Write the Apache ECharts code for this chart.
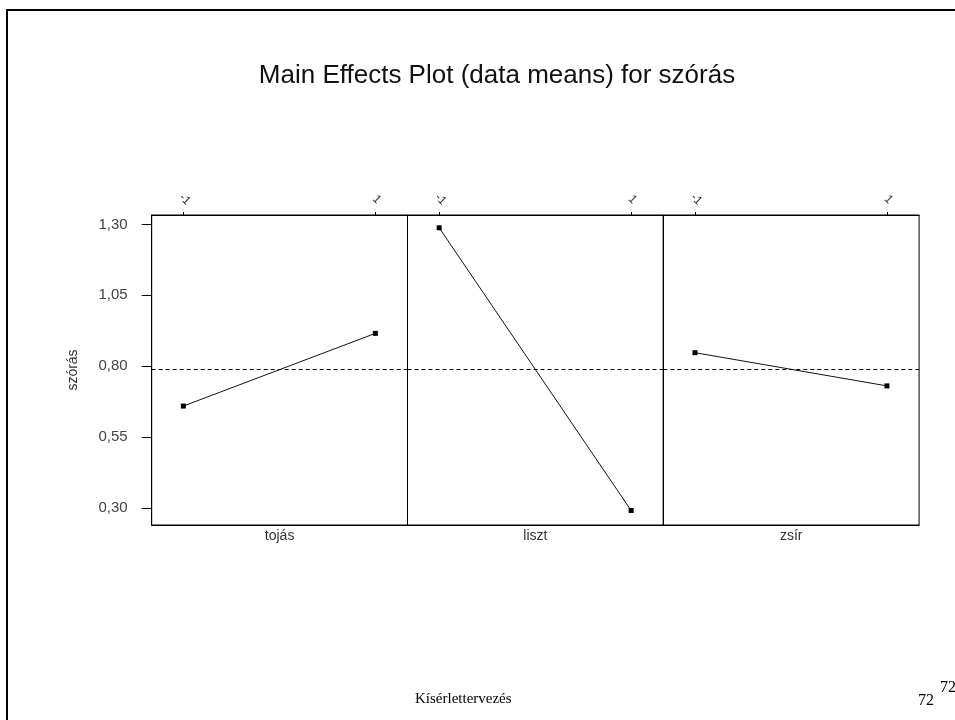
<!DOCTYPE html>
<html>
<head>
<meta charset="utf-8">
<script src="https://cdn.jsdelivr.net/npm/echarts@6/dist/echarts.min.js"></script>
<style>
  html, body { margin: 0; padding: 0; background: #fff; }
  #chart { width: 955px; height: 720px; }
</style>
</head>
<body>
<div id="chart"></div>
<script>
// Factor names, one panel each
const factors = ['tojás', 'liszt', 'zsír'];
// Factor levels shown on the top axis
const levels = [-1, 1];
const levelLabels = ['-1', '1'];
// Mean of szórás at each level (low, high) per factor
const tojasMeans = [0.660, 0.916];
const lisztMeans = [1.288, 0.292];
const zsirMeans = [0.848, 0.731];
// Grand mean
const grandMean = [0.789];
// Y-axis tick values
const yTicks = [0.30, 0.55, 0.80, 1.05, 1.30];

const meansByFactor = [tojasMeans, lisztMeans, zsirMeans];

const panelLeft = 151.7;
const panelWidth = 255.8;
const panelTop = 215;
const panelHeight = 310;
const yMin = 0.241, yMax = 1.333;
const xMin = -1.33, xMax = 1.335;
const sans = 'Arial, "Liberation Sans", sans-serif';

const grids = [], xAxes = [], yAxes = [], series = [];
factors.forEach((f, i) => {
  grids.push({
    left: panelLeft + i * panelWidth, top: panelTop,
    width: panelWidth, height: panelHeight,
    show: true, borderColor: '#000', borderWidth: 1, backgroundColor: 'transparent'
  });
  // top axis with level labels
  xAxes.push({
    type: 'value', gridIndex: i, position: 'top', min: xMin, max: xMax,
    axisLine: { show: true, onZero: false, lineStyle: { color: '#000', width: 1 } },
    axisTick: { show: true, customValues: levels, length: 3, lineStyle: { color: '#000' } },
    axisLabel: {
      show: true, customValues: levels, rotate: 45, margin: 17,
      align: 'center', verticalAlign: 'middle', padding: [0, 0, 0, 4],
      formatter: v => levelLabels[levels.indexOf(v)],
      color: '#333', fontSize: 12, fontFamily: sans
    },
    splitLine: { show: false }
  });
  // bottom axis carrying the factor name
  xAxes.push({
    type: 'value', gridIndex: i, position: 'bottom', min: xMin, max: xMax,
    name: f, nameLocation: 'middle', nameGap: 4,
    nameTextStyle: { color: '#333', fontSize: 14, fontFamily: sans, verticalAlign: 'top' },
    axisLine: { show: true, onZero: false, lineStyle: { color: '#000', width: 1 } },
    axisTick: { show: false }, axisLabel: { show: false }, splitLine: { show: false }
  });
  yAxes.push({
    type: 'value', gridIndex: i, min: yMin, max: yMax,
    name: i === 0 ? 'szórás' : '', nameLocation: 'middle', nameGap: 72, nameRotate: 90,
    nameTextStyle: { color: '#333', fontSize: 14, fontFamily: sans },
    axisLine: { show: true, onZero: false, lineStyle: { color: '#000', width: 1 } },
    axisTick: { show: i === 0, customValues: yTicks, length: 10, lineStyle: { color: '#000' } },
    axisLabel: {
      show: i === 0, customValues: yTicks, margin: 24,
      formatter: v => v.toFixed(2).replace('.', ','),
      color: '#444', fontSize: 15, fontFamily: sans
    },
    splitLine: { show: false }
  });
  series.push({
    type: 'line', xAxisIndex: i * 2, yAxisIndex: i,
    data: levels.map((lv, k) => [lv, meansByFactor[i][k]]),
    symbol: 'rect', symbolSize: 5, showSymbol: true,
    lineStyle: { color: '#111', width: 1 },
    itemStyle: { color: '#000' },
    silent: true, animation: false,
    markLine: {
      silent: true, symbol: 'none', label: { show: false },
      lineStyle: { color: '#000', type: [4, 3], width: 1 },
      data: [{ yAxis: grandMean[0] }]
    }
  });
});

const chart = echarts.init(document.getElementById('chart'), null, { renderer: 'canvas' });
chart.setOption({
  backgroundColor: '#fff',
  animation: false,
  title: {
    text: 'Main Effects Plot (data means) for szórás',
    left: 492, top: 58, textAlign: 'center',
    textStyle: { color: '#111', fontSize: 26, fontWeight: 'normal', fontFamily: sans }
  },
  grid: grids,
  xAxis: xAxes,
  yAxis: yAxes,
  series: series,
  graphic: [
    { type: 'line', shape: { x1: 6, y1: 10, x2: 955, y2: 10 }, style: { stroke: '#000', lineWidth: 2 } },
    { type: 'line', shape: { x1: 7, y1: 9, x2: 7, y2: 720 }, style: { stroke: '#000', lineWidth: 2 } },
    { type: 'text', left: 415, top: 692,
      style: { text: 'Kísérlettervezés', fill: '#000', font: '15px "Liberation Serif", "Times New Roman", serif' } },
    { type: 'text', left: 918, top: 693,
      style: { text: '72', fill: '#000', font: '16px "Liberation Serif", "Times New Roman", serif' } },
    { type: 'text', left: 940, top: 680,
      style: { text: '72', fill: '#000', font: '16px "Liberation Serif", "Times New Roman", serif' } }
  ]
});
</script>
</body>
</html>
